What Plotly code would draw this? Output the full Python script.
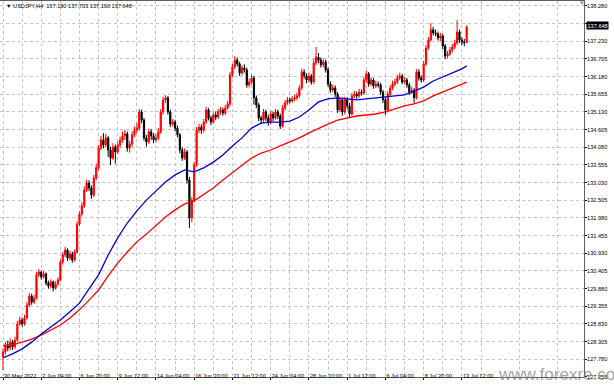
import plotly.graph_objects as go

# ---------------- data ----------------
first_open = 127.85
close = [128.00,128.21,128.12,128.29,128.15,128.35,128.83,128.95,128.83,129.01,
         129.39,129.66,129.48,129.60,130.29,130.37,130.23,130.32,130.05,129.96,
         130.08,129.90,130.02,130.14,130.67,130.88,131.03,130.79,130.91,130.73,
         130.97,131.80,132.10,132.34,132.81,133.02,132.87,132.66,133.17,133.47,
         134.06,134.30,134.15,134.36,134.00,133.76,134.09,133.94,134.15,134.30,
         134.42,134.48,134.06,134.18,134.45,134.59,134.65,135.13,134.89,134.36,
         134.24,134.54,134.42,134.30,134.36,134.54,135.13,135.49,135.55,135.13,
         134.77,134.83,134.65,134.45,134.00,133.76,133.94,133.11,131.98,132.51,
         133.55,134.59,134.68,134.59,134.83,135.19,134.95,134.83,135.04,134.98,
         135.13,135.19,135.10,135.25,135.37,136.23,136.47,136.67,136.56,136.29,
         136.44,136.38,135.93,136.02,136.14,135.55,135.34,134.95,134.89,135.13,
         134.95,134.83,135.07,134.95,135.13,135.01,134.71,135.25,135.40,135.49,
         135.46,135.52,135.55,135.61,135.84,136.32,136.20,136.08,136.20,136.02,
         136.59,136.76,136.67,136.53,136.62,136.38,135.96,135.78,135.84,135.66,
         135.19,135.49,135.13,135.49,135.31,135.07,135.61,135.66,135.61,135.72,
         135.69,136.08,136.26,135.96,136.08,135.90,135.96,135.93,135.72,135.49,
         135.19,135.66,135.84,135.96,136.02,136.14,136.20,136.02,136.08,135.93,
         135.72,135.78,135.55,136.32,136.14,136.08,136.56,137.03,137.27,137.57,
         137.48,137.45,137.33,137.39,137.09,136.79,136.85,136.97,137.06,137.18,
         137.51,137.27,137.21,137.19,137.648]
high = [128.10,128.30,128.33,128.40,128.36,128.45,128.92,129.05,129.02,129.10,
        129.48,129.75,129.73,129.70,130.38,130.47,130.42,130.40,130.36,130.12,
        130.16,130.12,130.10,130.22,130.75,130.96,131.12,131.08,131.00,130.98,
        131.05,131.88,132.18,132.45,132.92,133.12,133.10,132.95,133.26,133.60,
        134.15,134.42,134.50,134.48,134.42,134.10,134.20,134.16,134.25,134.40,
        134.55,134.60,134.55,134.28,134.55,134.70,134.80,135.22,135.20,134.95,
        134.45,134.64,134.62,134.50,134.48,134.65,135.22,135.58,135.63,135.60,
        135.20,134.92,134.90,134.72,134.50,134.08,134.05,134.00,133.20,132.60,
        133.64,134.68,134.78,134.76,134.92,135.28,135.25,135.02,135.12,135.15,
        135.22,135.28,135.26,135.34,135.46,136.32,136.56,136.79,136.75,136.62,
        136.52,136.55,136.45,136.12,136.24,136.20,135.62,135.40,135.02,135.22,
        135.20,135.05,135.16,135.14,135.22,135.20,135.08,135.34,135.48,135.58,
        135.56,135.60,135.64,135.70,135.93,136.42,136.40,136.28,136.30,136.26,
        136.70,137.06,136.88,136.75,136.72,136.68,136.45,136.04,135.94,135.92,
        135.72,135.58,135.56,135.58,135.56,135.40,135.70,135.76,135.74,135.82,
        135.80,136.18,136.36,136.32,136.16,136.14,136.06,136.04,136.00,135.78,
        135.55,135.75,135.93,136.06,136.12,136.24,136.30,136.26,136.17,136.14,
        136.00,135.88,135.84,136.40,136.40,136.22,136.65,137.12,137.36,137.77,
        137.66,137.58,137.52,137.48,137.45,137.15,136.94,137.06,137.15,137.27,
        137.86,137.58,137.36,137.30,137.703]
low = [127.45,127.92,128.02,128.05,128.06,128.08,128.30,128.78,128.75,128.78,
       128.96,129.33,129.40,129.42,129.55,130.22,130.15,130.18,129.98,129.88,
       129.90,129.80,129.85,129.96,130.10,130.60,130.82,130.70,130.72,130.65,
       130.68,130.92,131.74,132.02,132.28,132.75,132.78,132.55,132.60,133.10,
       133.40,134.00,134.05,134.08,133.80,133.55,133.70,133.60,133.88,134.08,
       134.22,134.30,133.95,133.92,134.10,134.38,134.50,134.58,134.80,134.28,
       134.10,134.18,134.30,134.20,134.22,134.30,134.48,135.05,135.40,135.05,
       134.68,134.70,134.55,134.38,133.90,133.68,133.70,133.00,131.68,131.85,
       132.45,133.50,134.50,134.48,134.52,134.78,134.88,134.74,134.78,134.90,
       134.92,135.05,135.02,135.04,135.20,135.30,136.16,136.40,136.48,136.20,
       136.22,136.30,135.85,135.86,135.95,135.35,135.25,134.86,134.78,134.82,
       134.86,134.72,134.76,134.86,134.90,134.92,134.62,134.66,135.18,135.34,
       135.38,135.40,135.45,135.48,135.55,135.78,136.12,135.98,136.00,135.94,
       135.96,136.52,136.58,136.45,136.46,136.30,135.88,135.70,135.72,135.58,
       135.10,135.12,135.02,135.06,135.22,134.98,135.02,135.54,135.52,135.55,
       135.62,135.64,136.00,135.88,135.90,135.82,135.84,135.86,135.64,135.40,
       135.04,135.12,135.60,135.78,135.90,135.96,136.08,135.95,135.96,135.85,
       135.64,135.66,135.40,135.50,136.06,136.00,136.02,136.50,136.98,137.22,
       137.40,137.38,137.25,137.24,137.00,136.70,136.72,136.80,136.90,137.00,
       137.12,137.18,137.12,137.08,137.190]

ma_idx = list(range(0, 193, 4)) + [194]
ma_blue = [127.82,127.94,128.09,128.29,128.53,128.74,128.95,129.19,129.45,129.87,
           130.29,130.88,131.39,131.83,132.19,132.51,132.78,133.05,133.26,133.41,
           133.35,133.47,133.64,133.85,134.12,134.36,134.65,134.80,134.83,134.83,
           134.86,134.98,135.19,135.43,135.52,135.55,135.52,135.49,135.52,135.55,
           135.58,135.61,135.64,135.75,135.87,136.05,136.17,136.29,136.41,136.50]
ma_red = [128.18,128.21,128.29,128.38,128.50,128.65,128.80,129.01,129.25,129.54,
          129.84,130.26,130.64,130.97,131.27,131.50,131.77,132.01,132.22,132.40,
          132.49,132.69,132.87,133.11,133.32,133.55,133.76,133.91,134.00,134.12,
          134.24,134.36,134.51,134.65,134.77,134.89,134.95,135.01,135.04,135.07,
          135.13,135.22,135.31,135.37,135.46,135.61,135.72,135.84,135.96,136.02]

time_labels = ["30 May 2022", "2 Jun 04:00", "6 Jun 20:00", "9 Jun 12:00", "14 Jun 04:00",
               "16 Jun 20:00", "21 Jun 12:00", "24 Jun 04:00", "28 Jun 20:00", "1 Jul 12:00",
               "6 Jul 04:00", "8 Jul 20:00", "13 Jul 12:00"]
price_labels = ["127.255", "127.780", "128.305", "128.830", "129.355", "129.880", "130.405",
                "130.930", "131.455", "131.980", "132.505", "133.030", "133.555", "134.080",
                "134.605", "135.130", "135.655", "136.180", "136.705", "137.230", "137.755",
                "138.280"]
title_text = "USDJPY,H4  137.190 137.703 137.190 137.648"
last_price = 137.648

# ---------------- figure ----------------
n = len(close)
xs = list(range(n))
opens = [first_open] + close[:-1]
opens[-1] = 137.190

W, H = 614, 388
ML, MR, MT, MB = 0, 30, 1, 11
PW, PH = W - ML - MR, H - MT - MB
px_per_bar = 2.39
x0 = -3 / px_per_bar
x1 = x0 + PW / px_per_bar
y1 = 138.428
y0 = 127.254

FONT = "Liberation Sans, Arial, sans-serif"
GRID = "#c4c4c4"
TICKFONT = dict(size=5.6, family=FONT, color="#000")

fig = go.Figure()
fig.add_trace(go.Scatter(x=ma_idx, y=ma_red, mode="lines",
                         line=dict(color="#ff0000", width=1.3), hoverinfo="skip"))
fig.add_trace(go.Scatter(x=ma_idx, y=ma_blue, mode="lines",
                         line=dict(color="#0000d8", width=1.3), hoverinfo="skip"))
fig.add_trace(go.Candlestick(
    x=xs, open=opens, high=high, low=low, close=close,
    increasing=dict(line=dict(color="#ff0000", width=1), fillcolor="#ff0000"),
    decreasing=dict(line=dict(color="#000000", width=1), fillcolor="#000000"),
    whiskerwidth=0, hoverinfo="skip"))

label_pos = [16 * k for k in range(len(time_labels))]
grid_minor = [16 * k + 8 for k in range(16)]
price_vals = [float(v) for v in price_labels]

fig.update_layout(
    width=W, height=H, margin=dict(l=ML, r=MR, t=MT, b=MB, autoexpand=False),
    paper_bgcolor="white", plot_bgcolor="white", showlegend=False,
    font=dict(family=FONT, size=6, color="#000000"),
    xaxis=dict(range=[x0, x1], rangeslider=dict(visible=False), automargin=False,
               tickmode="array", tickvals=label_pos, ticktext=time_labels,
               tickangle=0,
               ticklabelposition="outside right", ticklabeloverflow="allow",
               ticks="outside", ticklen=2,
               tickcolor="#000", tickfont=TICKFONT, ticklabelstandoff=-7,
               showgrid=True, gridcolor=GRID, griddash="dot", gridwidth=1,
               minor=dict(tickmode="array", tickvals=grid_minor, showgrid=True,
                          gridcolor=GRID, griddash="dot", gridwidth=1),
               showline=True, linecolor="#606060", linewidth=1, mirror=True,
               zeroline=False, fixedrange=True),
    yaxis=dict(range=[y0, y1], side="right", tickmode="array", automargin=False,
               tickvals=price_vals, ticktext=price_labels, ticks="outside",
               ticklabeloverflow="allow",
               ticklen=2, tickcolor="#000", tickfont=TICKFONT, ticklabelstandoff=-1,
               showgrid=True, gridcolor=GRID, griddash="dot", gridwidth=1,
               showline=True, linecolor="#606060", linewidth=1, mirror=True,
               zeroline=False, fixedrange=True),
)

def px_to_paper(X, Y):
    return (X - ML) / PW, (H - MB - Y) / PH

ax, ay = px_to_paper(4, 6)
fig.add_annotation(xref="paper", yref="paper", x=ax, y=ay, xanchor="left", yanchor="middle",
                   text="\u25bc " + title_text, showarrow=False,
                   font=dict(size=5.6, family=FONT, color="#000"))
ax, ay = px_to_paper(582, 3)
fig.add_annotation(xref="paper", yref="paper", x=ax, y=ay, xanchor="center", yanchor="middle",
                   text="\u25bc", showarrow=False, font=dict(size=6, color="#909090"))
fig.add_annotation(xref="paper", yref="y", x=1.0, y=last_price, xanchor="left", yanchor="middle",
                   xshift=2, yshift=2, text="%.3f" % last_price, showarrow=False,
                   bgcolor="#000000", borderpad=0.5,
                   font=dict(size=5.6, family=FONT, color="#ffffff"))
ax, ay = px_to_paper(496, 374)
fig.add_annotation(xref="paper", yref="paper", x=ax, y=ay, xanchor="left", yanchor="middle",
                   text="www.forexre.com", showarrow=False,
                   font=dict(size=17, family=FONT, color="rgba(120,120,120,0.7)"))

fig.write_html("out.html", config={"displayModeBar": False, "staticPlot": True},
               post_script="document.body.style.margin='0';document.body.style.overflow='hidden';")
